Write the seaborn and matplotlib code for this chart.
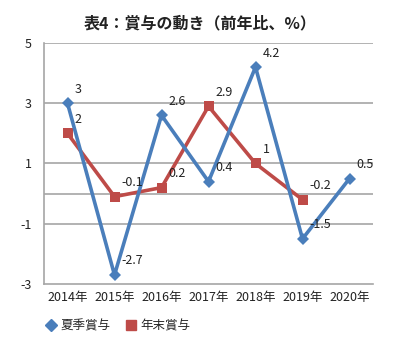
import matplotlib
matplotlib.use("Agg")
import matplotlib.pyplot as plt
from matplotlib.lines import Line2D
import seaborn as sns
import numpy as np
import pandas as pd

years = ["2014年", "2015年", "2016年", "2017年", "2018年", "2019年", "2020年"]
summer = [3, -2.7, 2.6, 0.4, 4.2, -1.5, 0.5]
yearend = [2, -0.1, 0.2, 2.9, 1, -0.2, np.nan]
series_names = ["夏季賞与", "年末賞与"]
title = "表4：賞与の動き（前年比、%）"

blue = "#4A7EBB"
red = "#BE4B48"

sns.set_theme(style="white")
plt.rcParams['font.family'] = ['Noto Sans CJK JP', 'DejaVu Sans']

fig = plt.figure(figsize=(4, 3.6), dpi=100)
ax = fig.add_axes([0.11, 0.2111, 0.8225, 0.6695])

xs = np.arange(len(years))
df_s = pd.DataFrame({"x": xs, "v": summer})
df_y = pd.DataFrame({"x": xs, "v": yearend}).dropna()

for yv in [5, 3, 1, 0, -1]:
    ax.axhline(yv, color="#A6A6A6", lw=1.2, zorder=0)

sns.lineplot(data=df_s, x="x", y="v", ax=ax, color=blue, lw=2.6,
             marker="D", markersize=6.5, markeredgewidth=0, zorder=3)
sns.lineplot(data=df_y, x="x", y="v", ax=ax, color=red, lw=2.6,
             marker="s", markersize=7.5, markeredgewidth=0, zorder=2)

for series in (summer, yearend):
    for x, v in zip(xs, series):
        if np.isnan(v):
            continue
        ax.annotate(f"{v:g}", (x, v), xytext=(7, 14), textcoords="offset pixels",
                    ha="left", va="center", fontsize=9, color="#222222")

ax.set_xlim(-0.5, 6.5)
ax.set_ylim(-3, 5)
ax.set_yticks([5, 3, 1, -1, -3])
ax.set_yticklabels(["5", "3", "1", "-1", "-3"])
ax.set_xticks(xs)
ax.set_xticklabels(years)
ax.set_xlabel("")
ax.set_ylabel("")
ax.tick_params(axis="both", length=0, labelsize=9, colors="#222222")
ax.tick_params(axis="y", pad=9)
ax.tick_params(axis="x", pad=5)
for s in ["top", "right"]:
    ax.spines[s].set_visible(False)
for s in ["left", "bottom"]:
    ax.spines[s].set_color("#A6A6A6")
    ax.spines[s].set_linewidth(1.2)

fig.text(0.5, 0.935, title, ha="center", va="center", fontsize=11.5,
         fontweight="bold", color="#222222")

handles = [Line2D([], [], color=blue, marker="D", lw=0, markersize=6),
           Line2D([], [], color=red, marker="s", lw=0, markersize=6.5)]
fig.legend(handles, series_names, loc="center left", bbox_to_anchor=(0.075, 0.095),
           frameon=False, fontsize=9, handletextpad=0.0, columnspacing=0.9,
           ncol=2, handlelength=1.5)

fig.savefig("out.png", dpi=100)
